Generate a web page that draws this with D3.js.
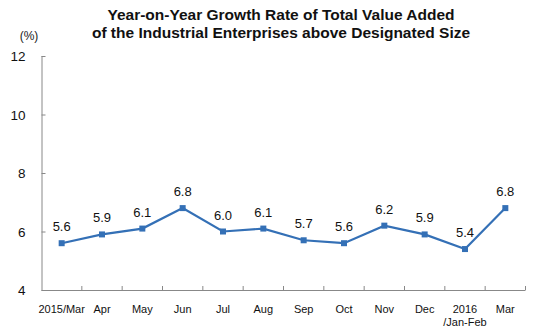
<!DOCTYPE html>
<html lang="en">
<head>
<meta charset="UTF-8">
<title>Industrial Value Added Growth</title>
<script src="https://cdn.jsdelivr.net/npm/d3@7"></script>
<style>
  body { margin: 0; background: #fff; font-family: Arial, "Liberation Sans", sans-serif; }
</style>
</head>
<body>
<div id="chart"></div>
<script>
  // monthly growth rate, percent
  const months = ["2015/Mar", "Apr", "May", "Jun", "Jul", "Aug", "Sep", "Oct", "Nov", "Dec", "2016\n/Jan-Feb", "Mar"];
  const growth = [5.6, 5.9, 6.1, 6.8, 6.0, 6.1, 5.7, 5.6, 6.2, 5.9, 5.4, 6.8];
  const yTicks = [4, 6, 8, 10, 12];

  const W = 536, H = 334;
  const mLeft = 41.5, mRight = 525.5, mTop = 56, mBottom = 290;
  const lineColor = "#3470b6";

  const svg = d3.select("#chart").append("svg")
    .attr("width", W).attr("height", H);

  const x = d3.scaleBand().domain(months).range([mLeft, mRight]);
  const y = d3.scaleLinear().domain([4, 12]).range([mBottom, mTop]);

  // title
  const title = svg.append("text")
    .attr("text-anchor", "middle")
    .attr("font-size", 15.5).attr("font-weight", "bold").attr("fill", "#111");
  title.append("tspan").attr("x", 281).attr("y", 20).text("Year-on-Year Growth Rate of Total Value Added");
  title.append("tspan").attr("x", 281).attr("y", 38).text("of the Industrial Enterprises above Designated Size");

  svg.append("text").attr("x", 29).attr("y", 40).attr("text-anchor", "middle")
    .attr("font-size", 12).attr("fill", "#222").text("(%)");

  // y axis
  const yAxis = svg.append("g").attr("transform", `translate(${mLeft},0)`)
    .call(d3.axisRight(y).tickValues(yTicks).tickSize(4).tickFormat(d3.format("d")));
  yAxis.select(".domain").attr("stroke", "#888").attr("d", `M0.5,${mTop}V${mBottom}`);
  yAxis.selectAll(".tick line").attr("stroke", "#888");
  yAxis.selectAll(".tick text")
    .attr("x", -16).attr("text-anchor", "end").attr("dy", "0.35em")
    .attr("font-size", 13.5).attr("font-family", "Arial, sans-serif").attr("fill", "#111");

  // x axis with ticks at category boundaries
  const bounds = d3.range(months.length + 1).map(i => mLeft + i * x.step());
  const xAxis = svg.append("g");
  xAxis.append("line").attr("x1", mLeft).attr("x2", mRight)
    .attr("y1", mBottom + 0.5).attr("y2", mBottom + 0.5).attr("stroke", "#888");
  xAxis.selectAll(".xt").data(bounds.slice(1)).join("line")
    .attr("x1", d => d).attr("x2", d => d)
    .attr("y1", mBottom).attr("y2", mBottom - 4).attr("stroke", "#888");

  const xl = xAxis.selectAll(".xl").data(months).join("text")
    .attr("text-anchor", "middle").attr("font-size", 11).attr("fill", "#111");
  xl.each(function(d) {
    const px = x(d) + x.bandwidth() / 2;
    d.split("\n").forEach((s, i) => {
      d3.select(this).append("tspan").attr("x", px).attr("y", 313 + i * 13).text(s);
    });
  });

  // series
  const cx = (d, i) => x(months[i]) + x.bandwidth() / 2;
  svg.append("path").datum(growth)
    .attr("fill", "none").attr("stroke", lineColor).attr("stroke-width", 2.2)
    .attr("d", d3.line().x(cx).y(d => y(d)));

  svg.selectAll(".pt").data(growth).join("rect")
    .attr("x", (d, i) => cx(d, i) - 3).attr("y", d => y(d) - 3)
    .attr("width", 6).attr("height", 6).attr("fill", lineColor);

  svg.selectAll(".lbl").data(growth).join("text")
    .attr("x", cx).attr("y", d => y(d) - 12)
    .attr("text-anchor", "middle").attr("font-size", 13).attr("fill", "#111")
    .text(d => d.toFixed(1));
</script>
</body>
</html>
